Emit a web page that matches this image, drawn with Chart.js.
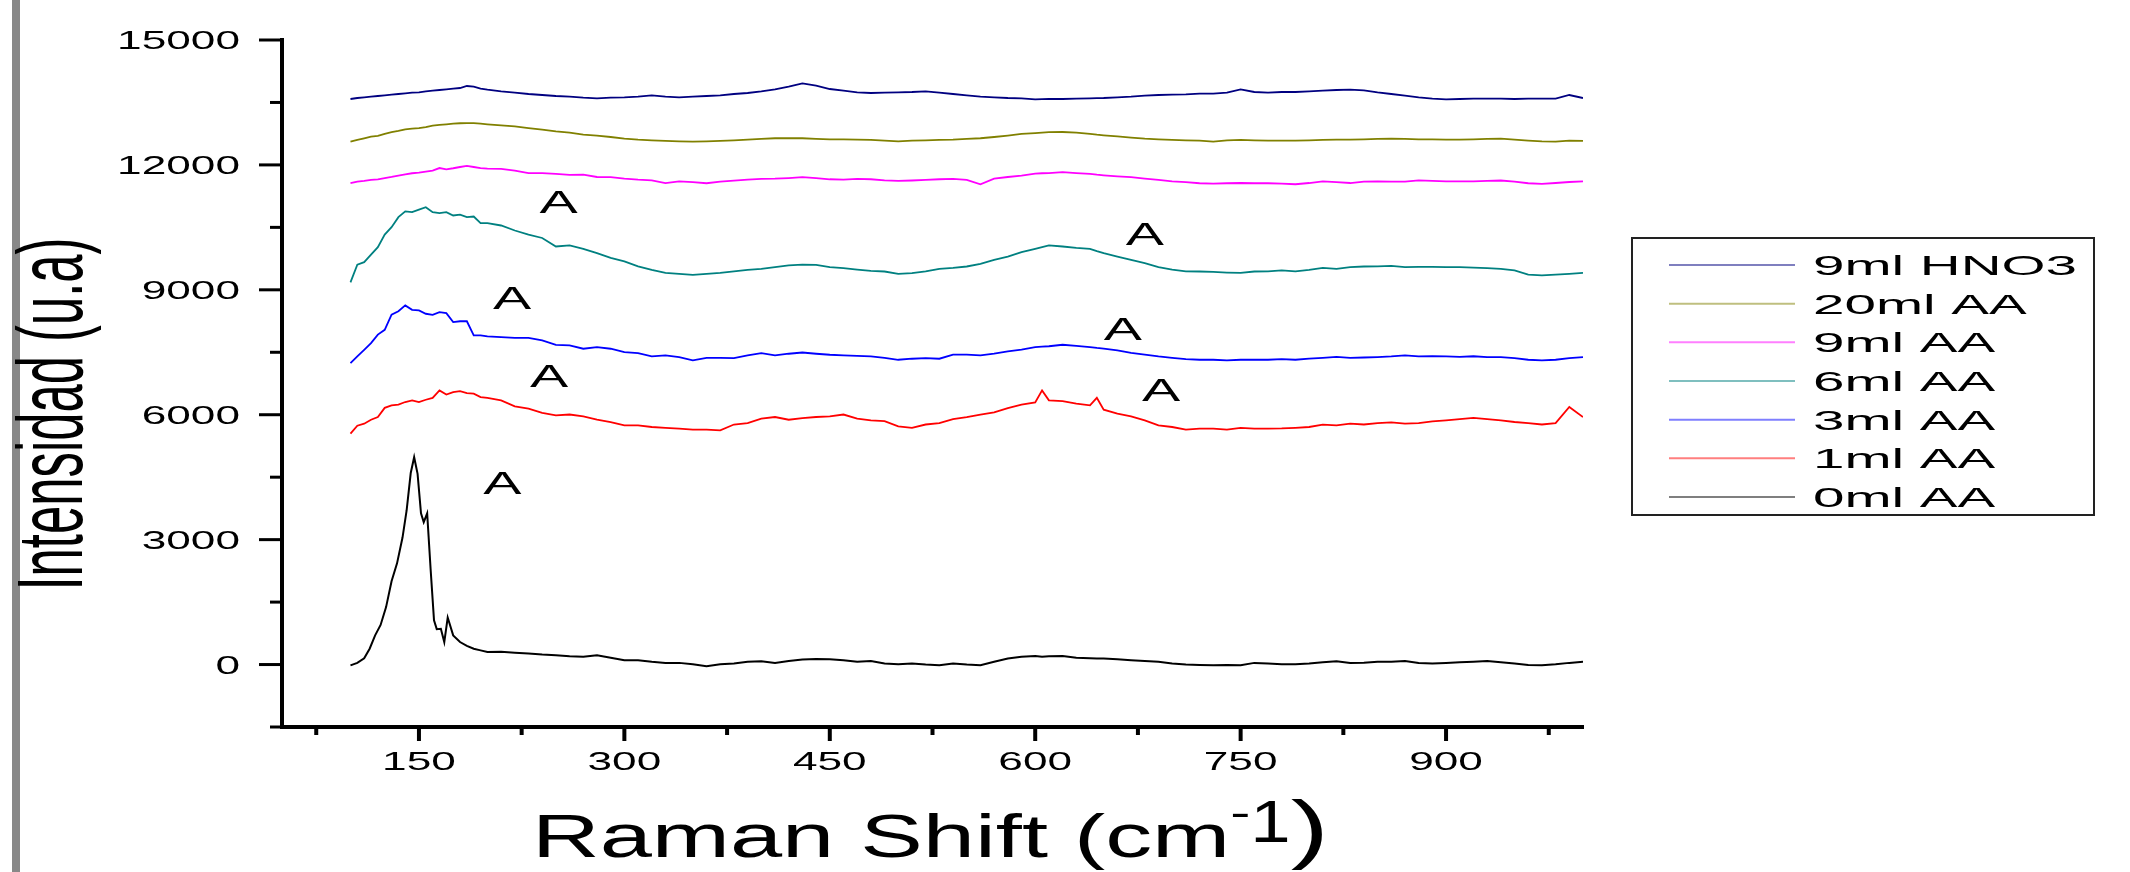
<!DOCTYPE html>
<html>
<head>
<meta charset="utf-8">
<script src="https://cdn.jsdelivr.net/npm/chart.js@4.4.0/dist/chart.umd.min.js"></script>
<style>
  html, body { margin: 0; padding: 0; background: #fff; }
  #wrap { width: 2130px; height: 872px; }
</style>
</head>
<body>
<div id="wrap"><canvas id="chart" width="2130" height="872"></canvas></div>
<script>
// Raman shift grid (cm-1) shared by the six upper spectra
const shift = [100,105,110,115,120,125,130,135,140,145,150,155,160,165,170,175,180,185,190,195,200,
  210,220,230,240,250,260,270,280,290,300,310,320,330,340,350,360,370,380,390,400,
  410,420,430,440,450,460,470,480,490,500,510,520,530,540,550,560,570,580,590,600,
  605,610,620,630,640,645,650,660,670,680,690,700,710,720,730,740,750,760,770,780,790,800,
  810,820,830,840,850,860,870,880,890,900,910,920,930,940,950,960,970,980,990,1000];

const hno3_9 = [13583,13607,13623,13639,13655,13671,13687,13703,13719,13735,13743,13767,13783,13799,13815,13831,13847,13895,13879,13831,13807,
  13767,13735,13703,13679,13655,13639,13615,13599,13615,13623,13639,13671,13639,13623,13639,13655,13671,13703,13727,13767,
  13815,13879,13959,13903,13823,13783,13743,13727,13735,13743,13751,13767,13735,13703,13671,13639,13623,13607,13599,13575,
  13579,13583,13583,13591,13599,13603,13607,13623,13639,13663,13679,13687,13695,13711,13711,13735,13815,13751,13735,13751,13751,13767,
  13783,13799,13807,13791,13743,13703,13663,13623,13591,13575,13583,13591,13591,13591,13583,13591,13591,13591,13679,13607];

const aa20 = [12560,12600,12640,12680,12695,12745,12790,12815,12855,12870,12885,12910,12945,12960,12975,12990,13000,13005,13005,12990,12975,
  12950,12925,12885,12845,12805,12775,12725,12705,12670,12630,12605,12590,12575,12565,12560,12565,12575,12590,12605,12625,
  12640,12640,12640,12625,12615,12615,12605,12600,12585,12565,12585,12590,12600,12605,12625,12640,12670,12705,12745,12765,
  12775,12785,12790,12775,12745,12725,12710,12685,12655,12630,12615,12600,12590,12585,12560,12590,12600,12590,12585,12585,12585,12590,
  12600,12605,12605,12615,12625,12630,12625,12615,12615,12605,12605,12615,12625,12630,12605,12585,12565,12560,12585,12575];

const aa9 = [11560,11600,11615,11640,11655,11685,11710,11745,11775,11800,11815,11840,11865,11925,11895,11920,11950,11975,11950,11925,11910,
  11905,11865,11805,11805,11785,11760,11765,11710,11705,11670,11645,11630,11565,11605,11585,11560,11600,11625,11645,11665,
  11670,11685,11705,11685,11655,11645,11665,11655,11630,11615,11625,11640,11655,11665,11640,11535,11670,11710,11745,11790,
  11800,11805,11825,11805,11785,11765,11750,11725,11705,11670,11640,11605,11585,11560,11550,11560,11565,11560,11560,11550,11535,11565,
  11605,11585,11565,11600,11605,11600,11600,11630,11615,11605,11605,11605,11615,11625,11600,11560,11545,11565,11590,11605];

const aa6 = [9180,9605,9665,9845,10025,10325,10505,10745,10885,10865,10925,10985,10865,10840,10865,10785,10805,10745,10760,10600,10600,
  10545,10425,10325,10245,10040,10065,9985,9880,9765,9685,9565,9480,9405,9385,9360,9385,9405,9445,9480,9505,
  9545,9585,9605,9600,9545,9520,9485,9455,9440,9385,9400,9445,9505,9525,9560,9625,9720,9800,9905,9985,
  10025,10065,10040,10005,9985,9930,9880,9800,9720,9640,9545,9485,9445,9440,9430,9415,9405,9440,9445,9465,9445,9480,
  9525,9505,9545,9560,9565,9575,9545,9550,9550,9545,9545,9535,9520,9505,9465,9365,9345,9365,9385,9405];

const aa3 = [7240,7400,7560,7720,7925,8040,8405,8485,8625,8520,8505,8425,8400,8465,8440,8225,8245,8245,7905,7905,7880,
  7865,7845,7845,7785,7680,7665,7585,7625,7585,7505,7480,7400,7425,7385,7305,7365,7365,7360,7425,7480,
  7425,7465,7495,7465,7440,7425,7415,7400,7365,7320,7345,7360,7345,7445,7445,7425,7465,7520,7565,7625,
  7635,7645,7680,7655,7625,7605,7590,7545,7485,7445,7400,7365,7335,7320,7320,7305,7320,7325,7320,7335,7320,7345,
  7365,7390,7365,7375,7385,7400,7425,7400,7405,7400,7390,7405,7385,7385,7360,7320,7305,7320,7360,7385];

const aa1 = [5545,5735,5785,5880,5945,6165,6225,6245,6305,6345,6305,6360,6405,6585,6485,6545,6565,6520,6505,6425,6405,
  6345,6200,6145,6045,5985,6005,5960,5880,5825,5745,5745,5705,5685,5665,5640,5640,5625,5765,5800,5905,
  5945,5880,5920,5945,5960,6005,5905,5865,5845,5720,5685,5765,5800,5895,5945,6005,6055,6160,6245,6295,
  6585,6345,6325,6265,6225,6405,6120,6025,5960,5865,5745,5705,5640,5665,5665,5640,5685,5665,5665,5670,5685,5705,
  5760,5745,5785,5765,5800,5815,5785,5800,5840,5865,5895,5925,5895,5865,5825,5800,5765,5800,6185,5945];

// 0ml AA: finer sampling over the sharp band, then the shared grid above 200
const peakShift = [100,105,110,114,118,122,126,130,134,138,141,144,146.5,149,151.5,153.5,156,158.5,161,163,166,168.5,171,175,180,185,190,195,200];
const peakInt = [-20,40,150,380,700,950,1380,2000,2430,3050,3700,4600,4980,4580,3630,3420,3630,2300,1060,850,860,540,1130,700,540,450,380,340,300];
const aa0 = [305,285,265,240,225,200,185,225,165,105,105,65,40,40,5,-40,5,25,65,80,
  40,85,120,135,125,105,65,85,25,5,25,0,-15,25,0,-15,65,145,185,205,
  185,200,205,165,150,145,145,125,105,85,65,25,0,-10,-15,-10,-15,40,25,5,5,25,
  55,80,40,45,65,70,85,40,25,40,55,70,85,55,25,-10,-15,5,40,65];

const labels = ['9ml HNO3', '20ml AA', '9ml AA', '6ml AA', '3ml AA', '1ml AA', '0ml AA'];
const colors = ['#000080', '#808000', '#ff00ff', '#008080', '#0000ff', '#ff0000', '#000000'];

const xMajor = [150, 300, 450, 600, 750, 900];
const xMinor = [75, 225, 375, 525, 675, 825, 975];
const yMajor = [0, 3000, 6000, 9000, 12000, 15000];
const yMinor = [-1500, 1500, 4500, 7500, 10500, 13500];

// "A" markers, in data units
const markX = [252, 218, 245, 211, 680, 664, 692];
const markY = [11120, 8815, 6920, 4350, 10350, 8070, 6585];

const FONT = '"Liberation Sans", Arial, sans-serif';

function pairs(xs, ys) {
  return xs.map((x, i) => ({ x: x, y: ys[i] }));
}

const upperShift = shift.filter(v => v > 200);
const series = [hno3_9, aa20, aa9, aa6, aa3, aa1];
const datasets = series.map((ys, i) => ({
  label: labels[i],
  data: pairs(shift, ys),
  borderColor: colors[i],
  borderWidth: 1.8
}));
datasets.push({
  label: labels[6],
  data: pairs(peakShift, peakInt).concat(pairs(upperShift, aa0)),
  borderColor: colors[6],
  borderWidth: 2
});

// text stretched horizontally, like the exported figure
function wideText(ctx, text, x, y, size, sx, align) {
  ctx.save();
  ctx.font = size + 'px ' + FONT;
  ctx.textAlign = 'left';
  ctx.textBaseline = 'alphabetic';
  const w = ctx.measureText(text).width * sx;
  let left = x;
  if (align === 'center') left = x - w / 2;
  if (align === 'right') left = x - w;
  ctx.translate(left, y);
  ctx.scale(sx, 1);
  ctx.fillStyle = '#000';
  ctx.fillText(text, 0, 0);
  ctx.restore();
  return w;
}

const decor = {
  id: 'decor',
  beforeDraw(chart) {
    const ctx = chart.ctx;
    ctx.save();
    ctx.fillStyle = '#fff';
    ctx.fillRect(0, 0, chart.width, chart.height);
    ctx.fillStyle = '#888';
    ctx.fillRect(12, 0, 8, chart.height);
    ctx.restore();
  },
  afterDraw(chart) {
    const ctx = chart.ctx;
    const xs = chart.scales.x, ys = chart.scales.y;
    const left = chart.chartArea.left, bottom = chart.chartArea.bottom;

    ctx.save();
    ctx.strokeStyle = '#000';
    ctx.lineCap = 'butt';
    // y ticks
    ctx.lineWidth = 3;
    yMajor.forEach(v => {
      const p = ys.getPixelForValue(v);
      ctx.beginPath(); ctx.moveTo(left - 23, p); ctx.lineTo(left, p); ctx.stroke();
      wideText(ctx, String(v), 240, p + 9, 26, 1.7, 'right');
    });
    yMinor.forEach(v => {
      const p = ys.getPixelForValue(v);
      ctx.beginPath(); ctx.moveTo(left - 12, p); ctx.lineTo(left, p); ctx.stroke();
    });
    // x ticks
    ctx.lineWidth = 4;
    xMajor.forEach(v => {
      const p = xs.getPixelForValue(v);
      ctx.beginPath(); ctx.moveTo(p, bottom); ctx.lineTo(p, bottom + 14); ctx.stroke();
      wideText(ctx, String(v), p, 770, 26, 1.7, 'center');
    });
    xMinor.forEach(v => {
      const p = xs.getPixelForValue(v);
      ctx.beginPath(); ctx.moveTo(p, bottom); ctx.lineTo(p, bottom + 8); ctx.stroke();
    });

    // A markers
    markX.forEach((v, i) => {
      wideText(ctx, 'A', xs.getPixelForValue(v), ys.getPixelForValue(markY[i]) + 11, 31, 1.85, 'center');
    });

    // x title: small raised dash, tall "1", tall closing bracket
    ctx.font = '62px ' + FONT;
    const w1 = ctx.measureText('Raman Shift (cm').width;
    ctx.font = '40px ' + FONT;
    const w2 = ctx.measureText('-').width;
    ctx.font = '60px ' + FONT;
    const w3 = ctx.measureText('1').width * 0.8;
    ctx.font = '76px ' + FONT;
    const w4 = ctx.measureText(')').width;
    const sx = 797 / (w1 + w2 + w3 + w4);
    let cx = 532;
    cx += wideText(ctx, 'Raman Shift (cm', cx, 857, 62, sx, 'left');
    cx += wideText(ctx, '-', cx, 826, 40, sx, 'left');
    cx += wideText(ctx, '1', cx, 842, 60, sx * 0.8, 'left');
    wideText(ctx, ')', cx, 854, 76, sx, 'left');

    // y title, rotated, squeezed along its length
    ctx.save();
    ctx.translate(82, 414);
    ctx.rotate(-Math.PI / 2);
    ctx.font = '93px ' + FONT;
    const tw = ctx.measureText('Intensidad (u.a)').width;
    const k = 353 / tw;
    ctx.scale(k, 1);
    ctx.fillStyle = '#000';
    ctx.textAlign = 'center';
    ctx.textBaseline = 'alphabetic';
    ctx.fillText('Intensidad (u.a)', 0, 0);
    ctx.restore();

    // legend box
    ctx.lineWidth = 2;
    ctx.strokeStyle = '#222';
    ctx.strokeRect(1632, 238, 462, 277);
    chart.data.datasets.forEach((ds, i) => {
      const y = 265 + i * 38.67;
      ctx.save();
      ctx.globalAlpha = 0.5;
      ctx.strokeStyle = ds.borderColor;
      ctx.lineWidth = 2;
      ctx.beginPath(); ctx.moveTo(1669, y); ctx.lineTo(1795, y); ctx.stroke();
      ctx.restore();
      wideText(ctx, ds.label, 1813, y + 10, 28, 2.02, 'left');
    });
    ctx.restore();
  }
};

new Chart(document.getElementById('chart'), {
  type: 'line',
  data: { datasets: datasets },
  options: {
    responsive: false,
    animation: false,
    devicePixelRatio: 1,
    layout: { padding: { left: 282, top: 40, right: 547, bottom: 145 } },
    elements: { point: { radius: 0 }, line: { tension: 0 } },
    plugins: { legend: { display: false }, tooltip: { enabled: false } },
    scales: {
      x: {
        type: 'linear', min: 50, max: 1000,
        grid: { display: false, drawTicks: false },
        border: { display: true, width: 4, color: '#000' },
        ticks: { display: false }
      },
      y: {
        type: 'linear', min: -1500, max: 15000,
        grid: { display: false, drawTicks: false },
        border: { display: true, width: 4, color: '#000' },
        ticks: { display: false }
      }
    }
  },
  plugins: [decor]
});
</script>
</body>
</html>
